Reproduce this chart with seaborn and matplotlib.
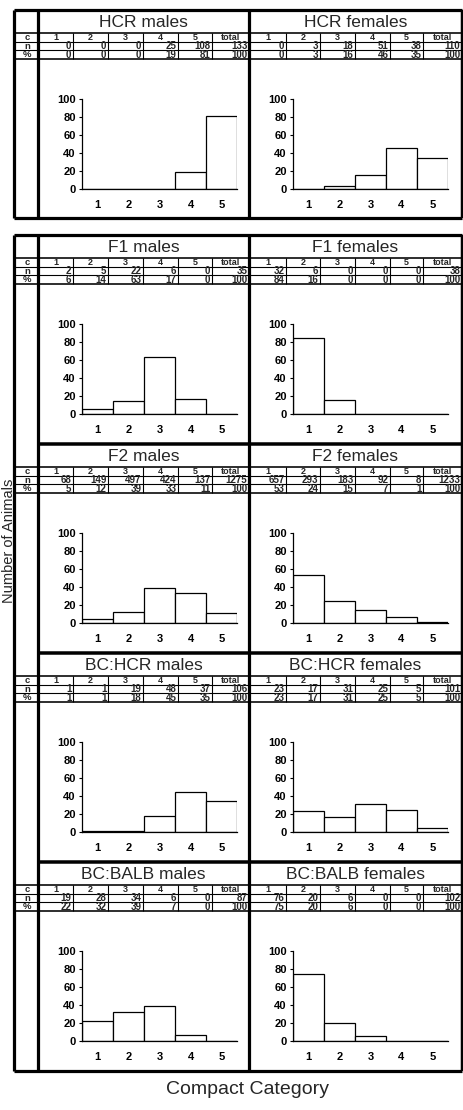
import matplotlib
matplotlib.use('Agg')
import matplotlib.pyplot as plt
import seaborn as sns

# ---------------- data ----------------
categories = ['1', '2', '3', '4', '5']
col_labels = ['1', '2', '3', '4', '5', 'total']
row_labels = ['c', 'n', '%']

hcr_m_n = [0, 0, 0, 25, 108, 133]
hcr_m_pct = [0, 0, 0, 19, 81, 100]
hcr_f_n = [0, 3, 18, 51, 38, 110]
hcr_f_pct = [0, 3, 16, 46, 35, 100]

f1_m_n = [2, 5, 22, 6, 0, 35]
f1_m_pct = [6, 14, 63, 17, 0, 100]
f1_f_n = [32, 6, 0, 0, 0, 38]
f1_f_pct = [84, 16, 0, 0, 0, 100]

f2_m_n = [68, 149, 497, 424, 137, 1275]
f2_m_pct = [5, 12, 39, 33, 11, 100]
f2_f_n = [657, 293, 183, 92, 8, 1233]
f2_f_pct = [53, 24, 15, 7, 1, 100]

bch_m_n = [1, 1, 19, 48, 37, 106]
bch_m_pct = [1, 1, 18, 45, 35, 100]
bch_f_n = [23, 17, 31, 25, 5, 101]
bch_f_pct = [23, 17, 31, 25, 5, 100]

bcb_m_n = [19, 28, 34, 6, 0, 87]
bcb_m_pct = [22, 32, 39, 7, 0, 100]
bcb_f_n = [76, 20, 6, 0, 0, 102]
bcb_f_pct = [75, 20, 6, 0, 0, 100]

panels = [
    (('HCR males', hcr_m_n, hcr_m_pct), ('HCR females', hcr_f_n, hcr_f_pct)),
    (('F1 males', f1_m_n, f1_m_pct), ('F1 females', f1_f_n, f1_f_pct)),
    (('F2 males', f2_m_n, f2_m_pct), ('F2 females', f2_f_n, f2_f_pct)),
    (('BC:HCR males', bch_m_n, bch_m_pct), ('BC:HCR females', bch_f_n, bch_f_pct)),
    (('BC:BALB males', bcb_m_n, bcb_m_pct), ('BC:BALB females', bcb_f_n, bcb_f_pct)),
]
y_ticks = [0, 20, 40, 60, 80, 100]
x_title = 'Compact Category'
y_title = 'Number of Animals'

# ---------------- layout (pixels) ----------------
W, H = 464, 1110
sns.set_theme(style='white')
plt.rcParams['font.family'] = ['Liberation Sans', 'DejaVu Sans']

fig = plt.figure(figsize=(W / 100, H / 100), dpi=100)
fig.patch.set_facecolor('white')

ov = fig.add_axes([0, 0, 1, 1], zorder=0)
ov.set_xlim(0, W)
ov.set_ylim(H, 0)
ov.axis('off')
ov.patch.set_visible(False)

PX = 0.72  # points per pixel at 100 dpi
K = 'black'

panel_tops = [10, 235, 444, 653, 862]
block1 = (10, 218)
block2 = (235, 1071)
LEFT, COLX, MID, RIGHT = 14, 38, 249, 462
male_cols = [38, 73, 108, 143, 178, 212, 249]
female_cols = [249, 286, 320, 355, 390, 423, 462]
chart_x = [(82, 237), (293, 448)]

# outer frames
for (top, bot) in [block1, block2]:
    ov.hlines([top, bot], LEFT, RIGHT, color=K, lw=3.2 * PX)
    ov.vlines([LEFT, COLX, MID], top, bot, color=K, lw=3.2 * PX)
    ov.vlines([RIGHT], top, bot, color=K, lw=2.5 * PX)
# separators within block 2
ov.hlines(panel_tops[2:], COLX, RIGHT, color=K, lw=3.5 * PX)

for S, pair in zip(panel_tops, panels):
    # table grid
    ov.hlines([S + 23, S + 49], LEFT, RIGHT, color=K, lw=1.6 * PX)
    ov.hlines([S + 32, S + 40], LEFT, RIGHT, color=K, lw=1.1 * PX)
    ov.vlines(male_cols[1:-1] + female_cols[1:-1], S + 23, S + 49, color=K, lw=1.1 * PX)
    row_y = [S + 27.8, S + 36.2, S + 44.6]
    for lab, yy in zip(row_labels, row_y):
        ov.text((LEFT + COLX) / 2 + 1, yy, lab, ha='center', va='center',
                fontsize=6.8, fontweight='bold')
    for side, (title, nvals, pvals) in enumerate(pair):
        cols = male_cols if side == 0 else female_cols
        ov.text((cols[0] + cols[-1]) / 2, S + 12.5, title, ha='center', va='center',
                fontsize=12.5)
        for j in range(6):
            l, r = cols[j], cols[j + 1]
            ov.text((l + r) / 2, row_y[0], col_labels[j], ha='center', va='center',
                    fontsize=6.5, fontweight='bold')
            ov.text(r - 1.5, row_y[1], str(nvals[j]), ha='right', va='center',
                    fontsize=7, fontweight='bold')
            ov.text(r - 1.5, row_y[2], str(pvals[j]), ha='right', va='center',
                    fontsize=7, fontweight='bold')

        # chart
        x0, x1 = chart_x[side]
        ytop, yzero = S + 89, S + 179
        ax = fig.add_axes([x0 / W, 1 - yzero / H, (x1 - x0) / W, (yzero - ytop) / H],
                          zorder=2)
        ax.patch.set_alpha(0)
        sns.barplot(x=categories, y=pvals[:5], ax=ax, color='white', saturation=1,
                    edgecolor=K, linewidth=0.9, width=1.0, errorbar=None)
        ax.set_xlim(-0.5, 4.5)
        ax.set_ylim(0, 100)
        ax.set_yticks(y_ticks)
        ax.set_yticklabels([str(v) for v in y_ticks])
        ax.set_xlabel('')
        ax.set_ylabel('')
        for sp in ['top', 'right']:
            ax.spines[sp].set_visible(False)
        for sp in ['left', 'bottom']:
            ax.spines[sp].set_color(K)
            ax.spines[sp].set_linewidth(0.9)
        ax.tick_params(axis='y', length=2, width=0.8, pad=2.5, labelsize=8,
                       colors=K, left=True, direction='out')
        ax.tick_params(axis='x', length=0, pad=8, labelsize=8, colors=K)
        for lbl in ax.get_xticklabels() + ax.get_yticklabels():
            lbl.set_fontweight('bold')

ov.text(248, 1089, x_title, ha='center', va='center', fontsize=14)
ov.text(13.5, 541, y_title, ha='center', va='baseline', fontsize=10.5,
        rotation=90, rotation_mode='anchor')

fig.savefig('out.png', dpi=100, facecolor='white')
